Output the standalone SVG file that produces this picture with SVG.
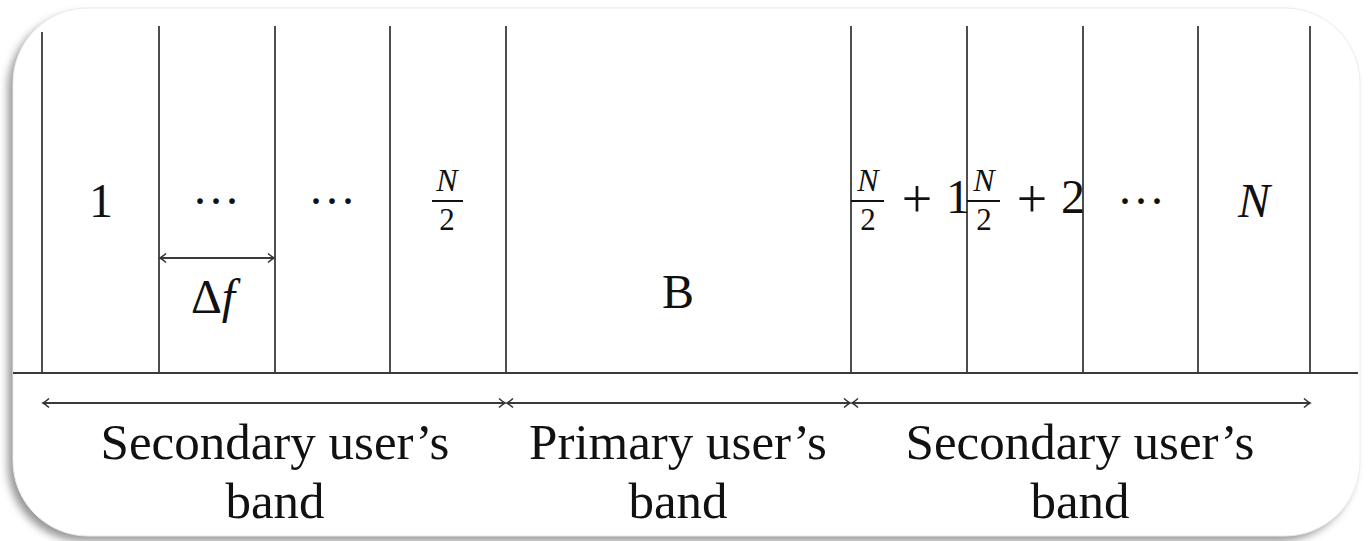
<svg xmlns="http://www.w3.org/2000/svg" width="1369" height="541" viewBox="0 0 1369 541">
  <style>
    .ln { stroke: #3a3a3a; stroke-width: 1.8; fill: none; }
    .t { font-family: "Liberation Serif", "DejaVu Serif", serif; fill: #111; text-anchor: middle; }
    .big { font-size: 48px; }
    .plus { font-size: 54px; }
    .lab { font-size: 51px; }
    .frac { font-size: 32px; font-style: italic; }
    .frac2 { font-size: 31px; }
    .it { font-style: italic; }
    .bar { stroke: #111; stroke-width: 2; }
  </style>
  <defs>
    <filter id="sh" x="-5%" y="-5%" width="110%" height="115%">
      <feGaussianBlur stdDeviation="4"/>
    </filter>
    <marker id="ah" viewBox="-7 -6 9 12" markerWidth="9" markerHeight="12" refX="0" refY="0" orient="auto-start-reverse" markerUnits="userSpaceOnUse">
      <path d="M -6 -4.5 Q -2 -1 0 0 Q -2 1 -6 4.5" fill="none" stroke="#333" stroke-width="1.6"/>
    </marker>
  </defs>

  <rect x="0" y="0" width="1369" height="541" fill="#ffffff"/>
  <g id="card">
    <rect x="8" y="14" width="1346" height="527" rx="75" ry="75" fill="#7a7a7a" opacity="0.8" filter="url(#sh)"/>
    <rect x="13" y="8" width="1347" height="528" rx="75" ry="75" fill="#ffffff" stroke="#ececec" stroke-width="1"/>
  </g>

  <g id="grid">
    <line class="ln" x1="42" y1="32" x2="42" y2="373"/>
    <line class="ln" x1="159" y1="26" x2="159" y2="373"/>
    <line class="ln" x1="275" y1="26" x2="275" y2="373"/>
    <line class="ln" x1="390" y1="26" x2="390" y2="373"/>
    <line class="ln" x1="506" y1="26" x2="506" y2="373"/>
    <line class="ln" x1="851" y1="26" x2="851" y2="373"/>
    <line class="ln" x1="967" y1="26" x2="967" y2="373"/>
    <line class="ln" x1="1083" y1="26" x2="1083" y2="373"/>
    <line class="ln" x1="1198" y1="26" x2="1198" y2="373"/>
    <line class="ln" x1="1310" y1="26" x2="1310" y2="373"/>
    <line class="ln" x1="13" y1="373" x2="1358" y2="373"/>
  </g>

  <g id="connectors">
    <line class="ln" x1="160" y1="258" x2="274" y2="258" marker-start="url(#ah)" marker-end="url(#ah)"/>
    <line class="ln" x1="43" y1="403" x2="505" y2="403" marker-start="url(#ah)" marker-end="url(#ah)"/>
    <line class="ln" x1="507" y1="403" x2="850" y2="403" marker-start="url(#ah)" marker-end="url(#ah)"/>
    <line class="ln" x1="852" y1="403" x2="1310" y2="403" marker-start="url(#ah)" marker-end="url(#ah)"/>
  </g>

  <g id="cell-1"><text class="t big" x="101" y="217">1</text></g>
  <g id="cell-2"><text class="t big" x="216" y="217">···</text></g>
  <g id="cell-3"><text class="t big" x="332" y="217">···</text></g>
  <g id="cell-n2">
    <text class="t frac" x="447" y="191">N</text>
    <line class="bar" x1="432" y1="201" x2="463" y2="201"/>
    <text class="t frac2" x="447" y="230">2</text>
  </g>
  <g id="delta-f"><text class="t big" x="213" y="313">Δ<tspan class="it">f</tspan></text></g>
  <g id="cell-B"><text class="t big" x="678" y="308">B</text></g>
  <g id="cell-n2p1">
    <text class="t frac" x="868" y="191">N</text>
    <line class="bar" x1="851" y1="201" x2="884" y2="201"/>
    <text class="t frac2" x="868" y="230">2</text>
    <text class="t plus" x="917" y="217">+</text>
    <text class="t big" x="958" y="213">1</text>
  </g>
  <g id="cell-n2p2">
    <text class="t frac" x="984" y="191">N</text>
    <line class="bar" x1="967" y1="201" x2="1000" y2="201"/>
    <text class="t frac2" x="984" y="230">2</text>
    <text class="t plus" x="1032" y="217">+</text>
    <text class="t big" x="1073" y="213">2</text>
  </g>
  <g id="cell-dots"><text class="t big" x="1141" y="217">···</text></g>
  <g id="cell-N"><text class="t big it" x="1254" y="217">N</text></g>

  <g id="band-sec-left">
    <text class="t lab" x="275" y="459">Secondary user’s</text>
    <text class="t lab" x="275" y="518">band</text>
  </g>
  <g id="band-primary">
    <text class="t lab" x="678" y="459">Primary user’s</text>
    <text class="t lab" x="678" y="518">band</text>
  </g>
  <g id="band-sec-right">
    <text class="t lab" x="1080" y="459">Secondary user’s</text>
    <text class="t lab" x="1080" y="518">band</text>
  </g>
</svg>
